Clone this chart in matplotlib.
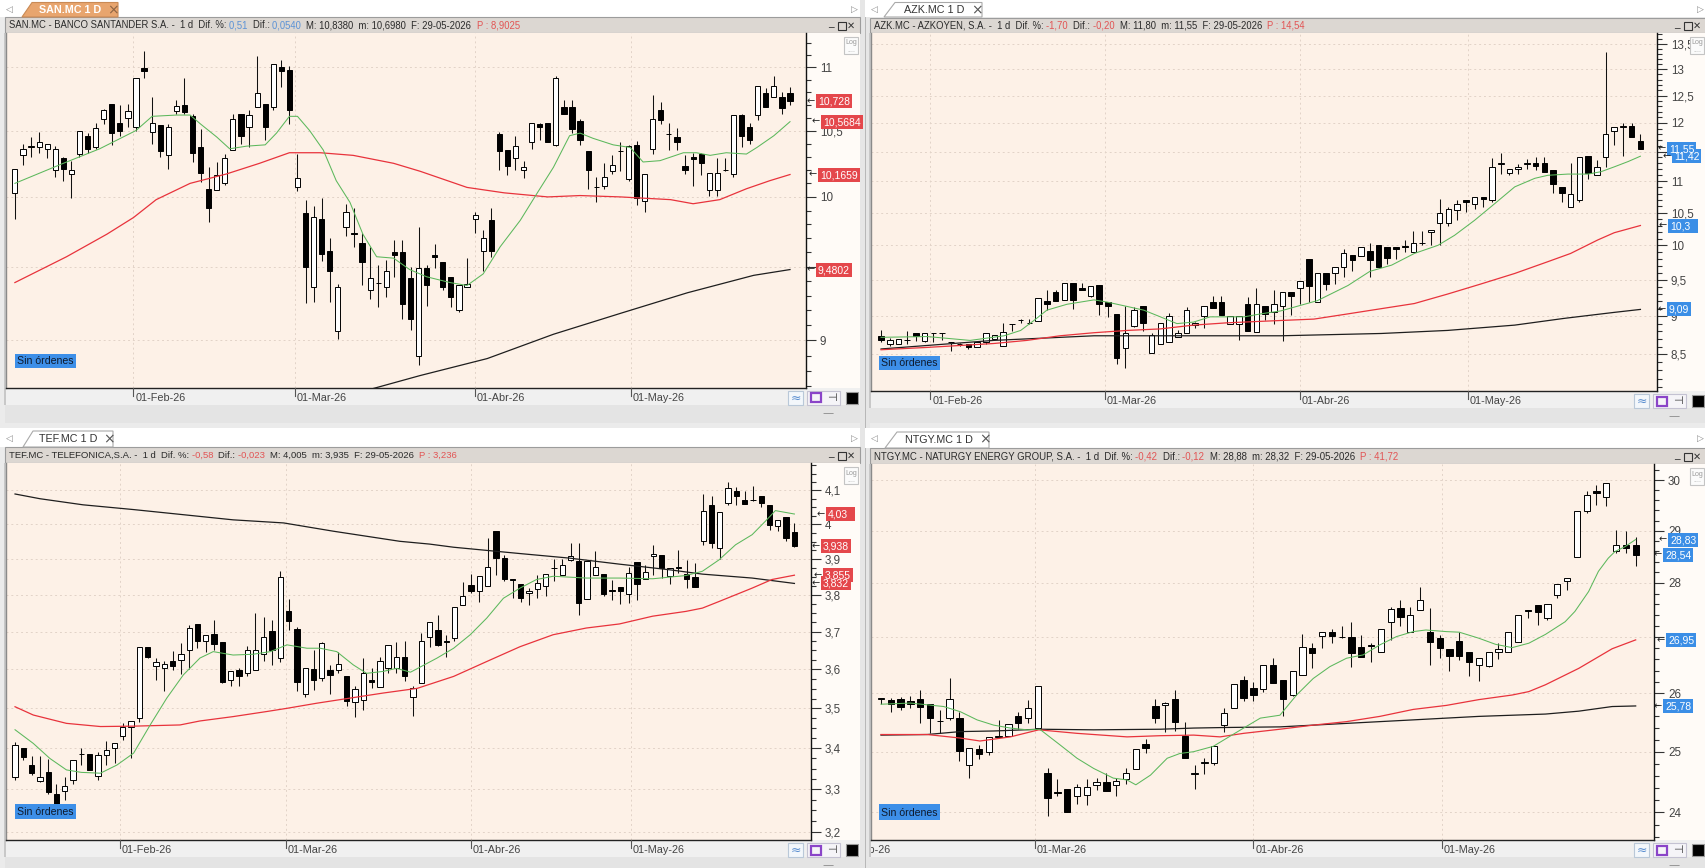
import numpy as np
import pandas as pd
import matplotlib
matplotlib.use("Agg")
import matplotlib.pyplot as plt
from matplotlib import font_manager as fm
from matplotlib.font_manager import FontProperties
from matplotlib.patches import Rectangle, Polygon
from matplotlib.collections import LineCollection
from matplotlib.ticker import FixedLocator, NullFormatter, FuncFormatter
from matplotlib.transforms import offset_copy

# ======================= DATA =======================
LAST_DATE = "2026-05-29"
HOLIDAYS = ["2026-04-03", "2026-04-06", "2026-05-01"]
MONTHS = {2: "Feb", 3: "Mar", 4: "Abr", 5: "May"}

# ---- SAN.MC ----
san_open = [10.03, 10.31, 10.37, 10.37, 10.36, 10.20, 10.29, 10.17, 10.32, 10.46,
            10.37, 10.59, 10.71, 10.56, 10.60, 10.53, 10.99, 10.49, 10.54, 10.31,
            10.65, 10.70, 10.61, 10.37, 10.06, 10.05, 10.10, 10.35, 10.63, 10.53,
            10.68, 10.71, 10.68, 11.00, 10.98, 10.07, 9.88, 9.36, 9.84, 9.61,
            9.06, 9.78, 9.74, 9.67, 9.34, 9.39, 9.36, 9.60, 9.60, 9.42,
            8.90, 9.49, 9.58, 9.53, 9.43, 9.20, 9.36, 9.84, 9.61, 9.83,
            10.47, 10.35, 10.29, 10.20, 10.41, 10.55, 10.56, 10.39, 10.68, 10.68,
            10.57, 10.34, 10.07, 10.08, 10.19, 10.34, 10.13, 10.39, 9.97, 10.36,
            10.66, 10.47, 10.45, 10.23, 10.30, 10.32, 10.05, 10.05, 10.20, 10.17,
            10.62, 10.53, 10.62, 10.79, 10.76, 10.76, 10.79]
san_high = [10.21, 10.40, 10.45, 10.49, 10.40, 10.38, 10.30, 10.27, 10.50, 10.48,
            10.56, 10.67, 10.71, 10.70, 10.71, 10.91, 11.13, 10.76, 10.54, 10.55,
            10.74, 10.91, 10.63, 10.51, 10.22, 10.26, 10.32, 10.63, 10.63, 10.66,
            11.09, 10.71, 11.03, 11.06, 11.01, 10.32, 9.98, 9.93, 9.99, 9.70,
            9.38, 9.95, 9.92, 9.74, 9.64, 9.51, 9.55, 9.69, 9.69, 9.50,
            9.78, 9.51, 9.66, 9.53, 9.43, 9.37, 9.56, 9.89, 9.76, 9.92,
            10.49, 10.35, 10.46, 10.27, 10.56, 10.56, 10.56, 10.93, 10.74, 10.74,
            10.59, 10.34, 10.15, 10.25, 10.31, 10.41, 10.39, 10.42, 10.17, 10.78,
            10.72, 10.56, 10.52, 10.31, 10.33, 10.33, 10.18, 10.29, 10.29, 10.62,
            10.63, 10.56, 10.85, 10.83, 10.93, 10.80, 10.838]
san_low = [9.84, 10.24, 10.30, 10.33, 10.29, 10.15, 10.12, 9.99, 10.30, 10.33,
           10.36, 10.55, 10.39, 10.46, 10.53, 10.50, 10.91, 10.40, 10.30, 10.21,
           10.63, 10.63, 10.26, 10.11, 9.82, 10.05, 10.09, 10.35, 10.40, 10.37,
           10.68, 10.43, 10.66, 10.84, 10.55, 10.04, 9.25, 9.26, 9.54, 9.26,
           9.01, 9.72, 9.64, 9.37, 9.28, 9.22, 9.29, 9.43, 9.14, 9.07,
           8.84, 9.23, 9.49, 9.34, 9.22, 9.19, 9.36, 9.74, 9.47, 9.57,
           10.20, 10.16, 10.20, 10.14, 10.36, 10.43, 10.41, 10.38, 10.63, 10.48,
           10.39, 10.06, 9.96, 10.06, 10.17, 10.19, 10.12, 9.94, 9.89, 10.32,
           10.55, 10.35, 10.35, 10.17, 10.08, 10.16, 10.01, 10.01, 10.19, 10.15,
           10.37, 10.40, 10.58, 10.68, 10.76, 10.63, 10.698]
san_close = [10.21, 10.36, 10.38, 10.41, 10.40, 10.36, 10.21, 10.20, 10.50, 10.36,
             10.52, 10.66, 10.48, 10.50, 10.65, 10.91, 10.97, 10.56, 10.34, 10.53,
             10.69, 10.64, 10.33, 10.18, 9.92, 10.16, 10.29, 10.59, 10.46, 10.62,
             10.79, 10.53, 11.03, 10.97, 10.66, 10.14, 9.50, 9.85, 9.59, 9.47,
             9.36, 9.89, 9.73, 9.53, 9.42, 9.39, 9.47, 9.58, 9.24, 9.14,
             9.49, 9.37, 9.57, 9.36, 9.29, 9.37, 9.38, 9.87, 9.70, 9.61,
             10.34, 10.23, 10.38, 10.22, 10.56, 10.53, 10.41, 10.91, 10.63, 10.51,
             10.43, 10.20, 10.07, 10.15, 10.24, 10.34, 10.38, 9.99, 10.17, 10.59,
             10.58, 10.47, 10.41, 10.20, 10.28, 10.25, 10.18, 10.18, 10.20, 10.62,
             10.46, 10.43, 10.85, 10.68, 10.85, 10.674, 10.728]
san_fast_x = [0, 6, 10.5, 15, 17, 20, 21.7, 23, 25, 26.6, 28.7, 31, 32.4, 34, 35, 36.5, 38.2, 39.8,
              41.5, 43.1, 44.8, 46.9, 48.9, 51, 53.9, 56, 58, 60.1, 62.6, 64.6, 66.7, 68.7, 70,
              71.6, 74.1, 76.2, 77.8, 79.9, 82.8, 84.4, 86.1, 88.1, 90.6, 91.9, 94, 96]
san_fast_y = [10.10, 10.25, 10.36, 10.50, 10.61, 10.62, 10.62, 10.55, 10.45, 10.36, 10.38, 10.39,
              10.48, 10.61, 10.61, 10.50, 10.35, 10.12, 9.96, 9.73, 9.57, 9.56, 9.48, 9.43, 9.39,
              9.37, 9.45, 9.64, 9.83, 10.02, 10.22, 10.46, 10.48, 10.44, 10.39, 10.37, 10.26, 10.27,
              10.33, 10.33, 10.31, 10.33, 10.32, 10.37, 10.46, 10.5684]
san_mid_x = [0, 6.4, 11.4, 14.7, 17.5, 21.7, 26.2, 30.3, 34, 37.8, 41.9, 46.9, 50.2, 56, 60.6, 66,
             70, 75, 81.2, 84, 87.3, 90.6, 93.5, 96]
san_mid_y = [9.39, 9.57, 9.73, 9.85, 9.98, 10.10, 10.17, 10.25, 10.33, 10.33, 10.31, 10.25, 10.19,
             10.07, 10.03, 10.00, 10.01, 10.00, 9.98, 9.95, 9.98, 10.06, 10.12, 10.1659]
san_slow_x = [42.5, 50.2, 58.5, 66.7, 75, 83.3, 91.5, 96]
san_slow_y = [8.66, 8.77, 8.88, 9.04, 9.18, 9.32, 9.44, 9.4802]
san_marks = [10.728, 10.5684, 10.1659, 9.4802]
san_mark_text = ["10,728", "10,5684", "10,1659", "9,4802"]
san_title = [("SAN.MC - BANCO SANTANDER S.A. -  1 d  Dif. %: ", "k"), ("0,51  ", "b"), ("Dif.: ", "k"),
             ("0,0540  ", "b"), ("M: 10,8380  m: 10,6980  F: 29-05-2026  ", "k"), ("P : 8,9025", "r")]

# ---- AZK.MC ----
azk_open = [8.74, 8.64, 8.64, 8.69, 8.78, 8.67, 8.78, 8.78, 8.66, 8.64,
            8.64, 8.59, 8.66, 8.70, 8.61, 8.89, 8.95, 8.91, 8.94, 9.21,
            9.33, 9.22, 9.46, 9.38, 9.28, 9.43, 9.19, 9.03, 8.58, 8.87,
            9.13, 8.52, 8.64, 8.66, 8.72, 8.77, 8.88, 9.00, 9.19, 9.19,
            8.90, 8.89, 9.16, 8.79, 9.13, 9.06, 9.13, 9.33, 9.38, 9.80,
            9.19, 9.60, 9.60, 9.68, 9.86, 9.85, 9.92, 10.00, 9.97, 9.97,
            9.99, 9.90, 10.03, 10.20, 10.34, 10.34, 10.54, 10.70, 10.64, 10.74,
            10.70, 11.29, 11.13, 11.21, 11.29, 11.30, 11.30, 11.19, 10.90, 10.59,
            10.70, 11.43, 11.10, 11.41, 11.85, 11.93, 11.94, 11.68]
azk_high = [8.81, 8.71, 8.70, 8.80, 8.78, 8.78, 8.78, 8.78, 8.66, 8.65,
            8.64, 8.66, 8.77, 8.75, 8.91, 8.90, 8.96, 8.96, 9.25, 9.36,
            9.36, 9.46, 9.46, 9.46, 9.41, 9.43, 9.19, 9.03, 9.14, 9.12,
            9.13, 8.77, 8.91, 9.04, 8.81, 9.12, 8.92, 9.13, 9.28, 9.28,
            9.00, 9.00, 9.26, 9.38, 9.13, 9.36, 9.33, 9.33, 9.49, 9.80,
            9.60, 9.60, 9.68, 9.95, 9.86, 9.97, 10.03, 10.00, 9.97, 9.97,
            10.08, 10.22, 10.22, 10.23, 10.72, 10.58, 10.70, 10.70, 10.74, 10.74,
            11.39, 11.48, 11.21, 11.28, 11.38, 11.41, 11.41, 11.19, 10.90, 11.30,
            11.41, 11.43, 11.36, 13.33, 11.93, 11.99, 12.00, 11.80]
azk_low = [8.66, 8.61, 8.64, 8.64, 8.67, 8.66, 8.66, 8.68, 8.55, 8.61,
           8.57, 8.59, 8.64, 8.70, 8.61, 8.80, 8.91, 8.90, 8.94, 9.08,
           9.21, 9.22, 9.10, 9.35, 9.26, 9.01, 8.99, 8.38, 8.33, 8.85,
           8.80, 8.52, 8.64, 8.66, 8.72, 8.77, 8.84, 8.84, 9.11, 9.01,
           8.90, 8.68, 8.80, 8.79, 8.95, 8.90, 8.67, 9.01, 9.17, 9.19,
           9.19, 9.36, 9.44, 9.54, 9.63, 9.85, 9.54, 9.69, 9.73, 9.80,
           9.90, 9.90, 10.00, 10.00, 10.00, 10.30, 10.38, 10.51, 10.56, 10.59,
           10.67, 11.12, 11.11, 11.12, 11.21, 11.18, 11.16, 10.81, 10.66, 10.59,
           10.66, 11.04, 11.10, 11.24, 11.61, 11.42, 11.77, 11.55]
azk_close = [8.68, 8.69, 8.70, 8.69, 8.74, 8.78, 8.77, 8.77, 8.66, 8.64,
             8.59, 8.66, 8.77, 8.75, 8.79, 8.89, 8.95, 8.91, 9.25, 9.17,
             9.21, 9.46, 9.22, 9.35, 9.41, 9.17, 9.13, 8.45, 8.77, 9.08,
             8.91, 8.75, 8.91, 9.00, 8.78, 9.08, 8.91, 9.13, 9.11, 9.01,
             9.00, 9.00, 8.80, 9.16, 9.03, 9.16, 9.33, 9.27, 9.49, 9.41,
             9.60, 9.44, 9.68, 9.88, 9.79, 9.97, 9.79, 9.69, 9.82, 9.95,
             9.98, 10.04, 10.04, 10.23, 10.50, 10.55, 10.64, 10.66, 10.74, 10.71,
             11.23, 11.30, 11.20, 11.24, 11.30, 11.26, 11.16, 10.95, 10.81, 10.80,
             11.41, 11.13, 11.23, 11.80, 11.93, 11.94, 11.75, 11.55]
azk_fast_x = [0, 5.3, 10.2, 14.1, 16, 17.5, 19, 21.3, 24.4, 25.9, 28.2, 30.1, 32, 33.9, 35.8, 37.7,
              41.6, 43.5, 45.8, 50, 53.5, 56, 58.5, 61.1, 63.8, 65.7, 68, 70.3, 72.6, 74.9, 76.4,
              78.7, 81, 82.5, 84, 85.6, 87]
azk_fast_y = [8.72, 8.73, 8.68, 8.74, 8.81, 8.94, 9.08, 9.16, 9.22, 9.19, 9.13, 9.08, 8.99, 8.90,
              8.92, 8.99, 8.99, 9.03, 9.07, 9.21, 9.42, 9.62, 9.71, 9.88, 10.00, 10.15, 10.38,
              10.64, 10.91, 11.05, 11.10, 11.12, 11.12, 11.16, 11.24, 11.33, 11.42]
azk_mid_x = [0, 5.3, 12.9, 16.7, 20.5, 24.4, 28.2, 32, 35.8, 39.6, 43.5, 49.6, 53.5, 57.3, 61.1,
             64.9, 68.7, 72.6, 76.4, 79, 82.1, 84, 87]
azk_mid_y = [8.56, 8.59, 8.64, 8.68, 8.74, 8.78, 8.81, 8.83, 8.88, 8.91, 8.93, 8.96, 9.03, 9.10,
             9.17, 9.30, 9.44, 9.59, 9.76, 9.88, 10.08, 10.19, 10.30]
azk_slow_x = [0, 12.9, 24.4, 35.8, 45.8, 57.3, 64.9, 72.6, 78.3, 84, 87]
azk_slow_y = [8.57, 8.68, 8.74, 8.74, 8.74, 8.77, 8.81, 8.88, 8.97, 9.05, 9.09]
azk_marks = [11.42, 11.55, 10.3, 9.09]
azk_mark_text = ["11,42", "11,55", "10,3", "9,09"]
azk_title = [("AZK.MC - AZKOYEN, S.A. -  1 d  Dif. %: ", "k"), ("-1,70  ", "r"), ("Dif.: ", "k"),
             ("-0,20  ", "r"), ("M: 11,80  m: 11,55  F: 29-05-2026  ", "k"), ("P : 14,54", "r")]

# ---- TEF.MC ----
tef_open = [3.331, 3.400, 3.359, 3.320, 3.341, 3.290, 3.296, 3.322, 3.386, 3.386,
            3.333, 3.383, 3.400, 3.431, 3.454, 3.475, 3.660, 3.608, 3.603, 3.621,
            3.625, 3.652, 3.721, 3.674, 3.694, 3.672, 3.573, 3.599, 3.590, 3.599,
            3.641, 3.701, 3.630, 3.757, 3.708, 3.536, 3.601, 3.577, 3.599, 3.599,
            3.582, 3.517, 3.521, 3.573, 3.554, 3.605, 3.605, 3.632, 3.530, 3.565,
            3.686, 3.705, 3.674, 3.683, 3.773, 3.828, 3.812, 3.826, 3.982, 3.903,
            3.845, 3.830, 3.806, 3.817, 3.826, 3.875, 3.856, 3.898, 3.894, 3.789,
            3.856, 3.858, 3.813, 3.822, 3.803, 3.892, 3.843, 3.908, 3.913, 3.854,
            3.877, 3.858, 3.851, 3.951, 4.055, 3.932, 4.062, 4.097, 4.070, 4.072,
            4.084, 4.055, 3.994, 4.021, 3.978]
tef_high = [3.416, 3.400, 3.381, 3.381, 3.373, 3.314, 3.330, 3.371, 3.400, 3.386,
            3.392, 3.418, 3.414, 3.462, 3.468, 3.660, 3.660, 3.630, 3.621, 3.649,
            3.670, 3.719, 3.721, 3.690, 3.732, 3.672, 3.595, 3.603, 3.663, 3.750,
            3.739, 3.732, 3.866, 3.790, 3.714, 3.605, 3.652, 3.672, 3.612, 3.647,
            3.582, 3.556, 3.630, 3.603, 3.634, 3.665, 3.672, 3.674, 3.558, 3.697,
            3.726, 3.746, 3.692, 3.768, 3.836, 3.858, 3.853, 3.960, 3.982, 3.913,
            3.845, 3.830, 3.819, 3.856, 3.858, 3.901, 3.901, 3.946, 3.946, 3.894,
            3.922, 3.858, 3.841, 3.822, 3.879, 3.892, 3.884, 3.939, 3.913, 3.875,
            3.925, 3.898, 3.890, 4.089, 4.084, 4.036, 4.125, 4.109, 4.097, 4.112,
            4.084, 4.055, 4.013, 4.021, 4.005]
tef_low = [3.322, 3.371, 3.334, 3.318, 3.290, 3.250, 3.274, 3.312, 3.359, 3.347,
           3.322, 3.359, 3.363, 3.420, 3.375, 3.466, 3.630, 3.573, 3.543, 3.599,
           3.588, 3.601, 3.656, 3.647, 3.652, 3.565, 3.556, 3.556, 3.582, 3.599,
           3.621, 3.612, 3.619, 3.705, 3.543, 3.528, 3.547, 3.570, 3.536, 3.590,
           3.506, 3.479, 3.496, 3.551, 3.554, 3.590, 3.592, 3.569, 3.481, 3.565,
           3.660, 3.663, 3.634, 3.674, 3.773, 3.805, 3.782, 3.826, 3.856, 3.838,
           3.791, 3.782, 3.773, 3.791, 3.796, 3.840, 3.856, 3.894, 3.746, 3.789,
           3.856, 3.796, 3.787, 3.775, 3.777, 3.787, 3.843, 3.856, 3.847, 3.830,
           3.861, 3.819, 3.822, 3.939, 3.932, 3.901, 4.057, 4.057, 4.060, 4.069,
           4.052, 3.984, 3.980, 3.951, 3.935]
tef_close = [3.407, 3.379, 3.339, 3.329, 3.294, 3.263, 3.308, 3.371, 3.387, 3.347,
             3.383, 3.396, 3.414, 3.454, 3.468, 3.660, 3.632, 3.619, 3.614, 3.608,
             3.640, 3.710, 3.676, 3.690, 3.668, 3.567, 3.595, 3.582, 3.650, 3.652,
             3.687, 3.652, 3.851, 3.728, 3.567, 3.605, 3.573, 3.670, 3.586, 3.614,
             3.519, 3.549, 3.590, 3.567, 3.623, 3.665, 3.632, 3.582, 3.551, 3.676,
             3.726, 3.665, 3.673, 3.768, 3.796, 3.810, 3.853, 3.879, 3.903, 3.845,
             3.841, 3.791, 3.812, 3.833, 3.858, 3.874, 3.884, 3.908, 3.777, 3.894,
             3.877, 3.803, 3.812, 3.810, 3.861, 3.831, 3.864, 3.916, 3.875, 3.875,
             3.875, 3.843, 3.822, 4.040, 3.946, 4.036, 4.107, 4.084, 4.060, 4.072,
             4.062, 3.999, 4.013, 3.961, 3.938]
tef_fast_x = [0, 2.2, 4.2, 6.2, 8, 10.3, 12.3, 14.3, 16.3, 18.3, 20.3, 22.3, 23.9, 26.3, 28.7, 30.8,
              32.8, 35.2, 36.8, 38.8, 40.8, 42.4, 44.4, 46, 47.7, 50.9, 52.9, 54.9, 56.9, 58.9, 60.9,
              62.9, 64.9, 68.9, 72.9, 76.9, 80.9, 82.9, 84.9, 86.9, 88.9, 90.5, 91.7, 94]
tef_fast_y = [3.446, 3.412, 3.375, 3.347, 3.341, 3.339, 3.359, 3.388, 3.458, 3.526, 3.586, 3.630,
              3.647, 3.638, 3.640, 3.647, 3.665, 3.656, 3.656, 3.647, 3.612, 3.590, 3.595, 3.603,
              3.593, 3.630, 3.656, 3.692, 3.737, 3.791, 3.819, 3.843, 3.852, 3.847, 3.847, 3.845,
              3.854, 3.866, 3.898, 3.941, 3.970, 4.009, 4.040, 4.030]
tef_mid_x = [0, 2.2, 6.2, 10.3, 14.3, 19.9, 22.3, 26.3, 30.4, 32.8, 36.4, 40.4, 44.4, 48.5, 52.9,
             56.9, 60.9, 64.9, 68.9, 72.9, 76.9, 80.9, 82.9, 84.9, 88.9, 91.3, 94]
tef_mid_y = [3.504, 3.483, 3.462, 3.454, 3.455, 3.458, 3.468, 3.479, 3.492, 3.500, 3.513, 3.526,
             3.539, 3.551, 3.582, 3.621, 3.660, 3.692, 3.710, 3.721, 3.742, 3.755, 3.764, 3.782,
             3.819, 3.843, 3.855]
tef_slow_x = [0, 3, 8.2, 14.3, 20.3, 26.3, 32.4, 38.4, 46.4, 50, 52.9, 60.9, 66.9, 72.9, 79, 82.9,
              88.9, 94]
tef_slow_y = [4.089, 4.075, 4.057, 4.043, 4.028, 4.013, 4.004, 3.980, 3.951, 3.943, 3.934, 3.916,
              3.903, 3.886, 3.870, 3.858, 3.847, 3.832]
tef_marks = [4.03, 3.938, 3.832, 3.855]
tef_mark_text = ["4,03", "3,938", "3,832", "3,855"]
tef_title = [("TEF.MC - TELEFONICA,S.A. -  1 d  Dif. %: ", "k"), ("-0,58  ", "r"), ("Dif.: ", "k"),
             ("-0,023  ", "r"), ("M: 4,005  m: 3,935  F: 29-05-2026  ", "k"), ("P : 3,236", "r")]

# ---- NTGY.MC ----
ntgy_open = [25.90, 25.89, 25.90, 25.87, 25.90, 25.81, 25.52, 25.57, 25.58, 24.77,
             25.05, 25.00, 25.25, 25.27, 25.60, 25.57, 25.40, 24.64, 24.33, 24.38,
             24.27, 24.28, 24.45, 24.50, 24.44, 24.55, 24.71, 25.13, 25.78, 25.79,
             25.90, 25.27, 24.63, 24.81, 24.81, 25.45, 25.75, 26.23, 26.10, 26.08,
             26.50, 26.23, 25.97, 26.32, 26.80, 27.02, 27.10, 27.00, 27.00, 26.83,
             26.85, 26.74, 27.28, 27.53, 27.10, 27.50, 27.10, 26.98, 26.78, 26.93,
             26.73, 26.50, 26.49, 26.74, 26.73, 26.92, 27.50, 27.58, 27.34, 27.78,
             28.04, 28.50, 29.38, 29.78, 29.67, 28.60, 28.73, 28.73]
ntgy_high = [25.92, 25.91, 25.93, 25.96, 26.06, 25.81, 25.71, 26.26, 25.67, 25.06,
             25.12, 25.24, 25.54, 25.47, 25.67, 25.89, 26.13, 24.73, 24.54, 24.38,
             24.47, 24.55, 24.57, 24.64, 24.57, 24.73, 25.05, 25.22, 25.90, 25.85,
             26.06, 25.51, 24.78, 24.89, 25.09, 25.75, 26.17, 26.31, 26.19, 26.50,
             26.63, 26.23, 26.40, 27.06, 26.89, 27.10, 27.15, 27.20, 27.28, 27.03,
             26.89, 27.14, 27.56, 27.69, 27.56, 27.93, 27.53, 27.04, 26.78, 27.09,
             26.73, 26.62, 26.74, 26.89, 27.09, 27.41, 27.50, 27.58, 27.61, 27.98,
             28.09, 29.38, 29.79, 29.91, 29.95, 29.01, 28.99, 28.88]
ntgy_low = [25.81, 25.68, 25.71, 25.74, 25.48, 25.31, 25.31, 25.54, 24.84, 24.57,
            24.87, 24.94, 25.23, 25.26, 25.39, 25.48, 25.40, 23.95, 24.26, 24.00,
            24.13, 24.12, 24.36, 24.35, 24.26, 24.47, 24.71, 24.98, 25.48, 25.34,
            25.35, 24.89, 24.38, 24.62, 24.77, 25.34, 25.75, 25.86, 25.86, 26.03,
            26.18, 25.60, 25.96, 26.32, 26.45, 26.81, 26.89, 26.98, 26.46, 26.64,
            26.56, 26.74, 26.95, 27.20, 27.10, 27.50, 26.50, 26.62, 26.39, 26.59,
            26.31, 26.21, 26.47, 26.61, 26.73, 26.92, 27.35, 27.22, 27.32, 27.72,
            27.87, 28.50, 29.34, 29.51, 29.48, 28.57, 28.57, 28.32]
ntgy_close = [25.91, 25.81, 25.77, 25.82, 25.76, 25.57, 25.52, 25.90, 25.01, 25.06,
              24.96, 25.24, 25.26, 25.47, 25.49, 25.75, 26.12, 24.24, 24.32, 24.00,
              24.41, 24.41, 24.50, 24.35, 24.52, 24.64, 25.05, 25.07, 25.58, 25.83,
              25.50, 24.90, 24.64, 24.82, 25.09, 25.65, 26.16, 25.91, 25.97, 26.50,
              26.18, 25.90, 26.40, 26.83, 26.71, 27.10, 27.02, 27.01, 26.72, 26.64,
              26.84, 27.14, 27.52, 27.36, 27.40, 27.69, 26.91, 26.81, 26.66, 26.66,
              26.56, 26.62, 26.74, 26.78, 27.09, 27.41, 27.47, 27.46, 27.61, 27.98,
              28.09, 29.38, 29.71, 29.74, 29.94, 28.73, 28.66, 28.54]
ntgy_fast_x = [0, 3, 6.4, 8.1, 9.8, 11.5, 13.2, 14.9, 16.2, 18.3, 20, 21.7, 23.7, 25.1, 26, 27.5,
               29.2, 30.5, 31.9, 33.9, 35.3, 37, 38.7, 40.7, 42.4, 44.1, 45.8, 47.5, 49.2, 50.9,
               52.6, 54.3, 55.6, 57.7, 59, 61, 62.7, 64.4, 66.1, 67.8, 69.8, 70.8, 72.2, 73.2,
               74.2, 74.9, 75.9, 77]
ntgy_fast_y = [25.81, 25.83, 25.77, 25.68, 25.54, 25.45, 25.40, 25.37, 25.38, 25.11, 24.89, 24.72,
               24.56, 24.53, 24.45, 24.61, 24.89, 24.97, 25.00, 25.09, 25.23, 25.40, 25.57, 25.62,
               25.97, 26.26, 26.47, 26.62, 26.68, 26.86, 27.01, 27.10, 27.13, 27.10, 27.09, 26.98,
               26.87, 26.81, 26.89, 27.05, 27.28, 27.47, 27.84, 28.22, 28.47, 28.60, 28.69, 28.83]
ntgy_mid_x = [0, 4.7, 8.1, 10.1, 13.2, 16.1, 20, 25.1, 28.5, 31.9, 34.6, 37, 40.7, 44.1, 47.5,
              50.9, 54.3, 57.7, 61, 64.4, 66.1, 67.8, 71.2, 74.6, 77]
ntgy_mid_y = [25.29, 25.29, 25.23, 25.18, 25.25, 25.37, 25.31, 25.25, 25.27, 25.28, 25.25, 25.31,
              25.38, 25.45, 25.51, 25.60, 25.72, 25.79, 25.89, 25.97, 26.03, 26.15, 26.44, 26.79,
              26.95]
ntgy_slow_x = [0, 4.7, 8.1, 11.5, 16.2, 21.7, 28.5, 31.9, 35.3, 40.7, 47.5, 54.3, 61, 67.8, 71.2,
               74.6, 77]
ntgy_slow_y = [25.28, 25.29, 25.34, 25.35, 25.38, 25.37, 25.38, 25.40, 25.41, 25.42, 25.48, 25.54,
               25.60, 25.64, 25.69, 25.77, 25.78]
ntgy_marks = [28.83, 28.54, 26.95, 25.78]
ntgy_mark_text = ["28,83", "28,54", "26,95", "25,78"]
ntgy_title = [("NTGY.MC - NATURGY ENERGY GROUP, S.A. -  1 d  Dif. %: ", "k"), ("-0,42  ", "r"),
              ("Dif.: ", "k"), ("-0,12  ", "r"), ("M: 28,88  m: 28,32  F: 29-05-2026  ", "k"),
              ("P : 41,72", "r")]

# ======================= STYLE =======================
_avail = {f.name for f in fm.fontManager.ttflist}
if "Liberation Sans Narrow" in _avail:
    FONT, FS = "Liberation Sans Narrow", 1.0
else:
    FONT, FS = "Liberation Sans", 0.84
plt.rcParams["font.family"] = [FONT, "DejaVu Sans"]

RED_BOX, BLUE_BOX = "#e4474b", "#3b8ee6"
TCOL = {"k": "#2a2a2a", "b": "#5b92d6", "r": "#e25454"}
PLOT_BG, AXIS_BG, BAR_BG = "#fdf1e7", "#fffbf7", "#dcd7d2"
GRID = "#e2d3c8"

W, H = 1706, 868
fig = plt.figure(figsize=(W / 100, H / 100), dpi=100)
fig.patch.set_facecolor("#ebebeb")
renderer = fig.canvas.get_renderer()


def fr(x0, y0, x1, y1):
    return [x0 / W, 1 - y1 / H, (x1 - x0) / W, (y1 - y0) / H]


def frect(x0, y0, x1, y1, fc, ec="none", lw=0.0, z=-5):
    r = Rectangle((x0 / W, 1 - y1 / H), (x1 - x0) / W, (y1 - y0) / H, transform=fig.transFigure,
                  facecolor=fc, edgecolor=ec, linewidth=lw, zorder=z)
    fig.add_artist(r)
    return r


def ftext(x, y, s, size, color="#222222", ha="left", va="center", z=6, **kw):
    return fig.text(x / W, 1 - y / H, s, fontsize=size, color=color, ha=ha, va=va, zorder=z, **kw)


def twidth(s, size):
    fp = FontProperties(family=FONT, size=size)
    a = renderer.get_text_width_height_descent(s + "|", fp, ismath=False)[0]
    b = renderer.get_text_width_height_descent("|", fp, ismath=False)[0]
    return a - b


CAL = pd.bdate_range("2026-01-02", LAST_DATE)
CAL = CAL[~CAL.isin(pd.to_datetime(HOLIDAYS))]


def month_ticks(n):
    off = len(CAL) - n
    out = []
    for m, name in MONTHS.items():
        d = pd.Timestamp(2026, m, 1)
        k = int(CAL.searchsorted(d))
        if k < len(CAL) and CAL[k] == d:
            pos = float(k)
        else:
            pos = k - 1 + (d - CAL[k - 1]).days / (CAL[k] - CAL[k - 1]).days
        out.append((pos - off, "01-%s-26" % name))
    return out


def minor_list(lo, hi, step, majors):
    vals = np.arange(np.ceil(lo / step) * step, hi, step)
    return [v for v in vals if min(abs(v - m) for m in majors) > step * 0.3]


LABEL_FS = 8.9 * FS


def draw_panel(p):
    X0, X1 = p["x0"], p["x1"]
    xa, ya, xb, yb = p["plot"]
    ty0, ty1 = p["tab_y"]
    hy0, hy1 = p["title_y"]

    # frame pieces
    frect(X0 - 5, ty0, X1, ty1, "#ffffff", z=-6)
    frect(X0, hy0, X1, hy1, BAR_BG, ec="#9c9c9c", lw=0.8, z=-4)
    frect(xb, ya, X1, yb, AXIS_BG, z=-4)
    frect(X0, yb, X1, yb + 17, "#f0f0f0", z=-4)
    frect(X0, yb + 17, X1, p["strip_end"], "#e4e4e4", z=-4)
    frect(X0 - 1, ya, xa, yb + 17, "#c8c8c8", z=-4)

    # tab
    act = p["active"]
    poly = [(x / W, 1 - y / H) for x, y in p["tab_poly"]]
    fig.add_artist(Polygon(poly, closed=True, transform=fig.transFigure,
                           facecolor=("#e8a56e" if act else "#ffffff"),
                           edgecolor=("#c98a55" if act else "#a9a9a9"), linewidth=0.8, zorder=1))
    tyc = (ty0 + ty1) / 2 + 1.5
    ftext(p["tab_text_x"], tyc, p["tab_text"], 9.2 * FS,
          color=("#ffffff" if act else "#333333"), weight=("bold" if act else "normal"))
    ftext(p["tab_close_x"], tyc, "\u00d7", 10, color=("#8d6444" if act else "#555555"), family="DejaVu Sans")
    ftext(X0 + 1, tyc - 1, "\u25c1", 6.5, color="#8a8a8a", family="DejaVu Sans")
    ftext(X1 - 9, tyc - 1, "\u25b7", 6.5, color="#8a8a8a", family="DejaVu Sans")

    # title text (fit to measured width)
    segs = p["title"]
    total = sum(twidth(s, 10) for s, _ in segs)
    size = 10 * p["title_w"] / total
    x = p["title_x"]
    yc = (hy0 + hy1) / 2 + 0.5
    for s, c in segs:
        ftext(x, yc, s, size, color=TCOL[c])
        x += twidth(s, size)
    # window buttons
    ftext(X1 - 32, yc - 2, "_", 8, color="#333333", family="DejaVu Sans")
    frect(X1 - 22, yc - 4, X1 - 14, yc + 4, "none", ec="#333333", lw=0.8, z=6)
    ftext(X1 - 9, yc, "\u2715", 7, color="#333333", family="DejaVu Sans", ha="center")

    # main axes
    ax = fig.add_axes(fr(xa, ya, xb, yb))
    ax.set_facecolor(PLOT_BG)
    o, h, l, c = p["o"], p["h"], p["l"], p["c"]
    n = len(o)
    ax.set_yscale("log")
    ax.set_xlim(-p["pad"][0], n - 1 + p["pad"][1])
    ax.set_ylim(*p["ylim"])

    ticks = month_ticks(n)
    for v in p["majors"]:
        ax.axhline(v, color=GRID, lw=0.7, ls=(0, (2, 3)), zorder=1)
    for pos, _ in ticks:
        ax.axvline(pos, color=GRID, lw=0.7, ls=(0, (2, 3)), zorder=1)

    idx = np.arange(n)
    segs_w = [[(i, l[i]), (i, h[i])] for i in idx]
    ax.add_collection(LineCollection(segs_w, colors="#111111", linewidths=0.75, zorder=3))
    bw = 0.64
    for i in idx:
        up = c[i] >= o[i]
        lo, hi = min(o[i], c[i]), max(o[i], c[i])
        ax.add_patch(Rectangle((i - bw / 2, lo), bw, hi - lo, facecolor=("#ffffff" if up else "#000000"),
                               edgecolor="#000000", linewidth=0.7, zorder=4))

    ax.plot(p["slow"][0], p["slow"][1], color="#1e1e1e", lw=0.9, zorder=5)
    ax.plot(p["mid"][0], p["mid"][1], color="#e8333c", lw=0.9, zorder=5)
    ax.plot(p["fast"][0], p["fast"][1], color="#5cb85c", lw=0.75, zorder=5)

    hidden = p["hidden"]

    def fmt(v, _):
        if any(abs(v - hv) < 1e-9 for hv in hidden):
            return ""
        return ("%g" % v).replace(".", ",")

    ax.yaxis.tick_right()
    ax.yaxis.set_major_locator(FixedLocator(p["majors"]))
    ax.yaxis.set_major_formatter(FuncFormatter(fmt))
    ax.yaxis.set_minor_locator(FixedLocator(minor_list(p["ylim"][0], p["ylim"][1], p["minor"], p["majors"])))
    ax.yaxis.set_minor_formatter(NullFormatter())
    ax.tick_params(axis="y", which="major", length=7, width=0.8, colors="#333333",
                   labelsize=10 * FS, labelcolor="#444444", pad=3)
    ax.tick_params(axis="y", which="minor", length=3.5, width=0.8, colors="#333333")
    ax.tick_params(axis="x", bottom=False, labelbottom=False)
    ax.spines["top"].set_visible(False)
    ax.spines["left"].set_color("#8a8a8a")
    ax.spines["right"].set_color("#111111")
    ax.spines["bottom"].set_color("#222222")
    for s in ("right", "bottom", "left"):
        ax.spines[s].set_linewidth(1.0)

    # date strip
    dax = fig.add_axes(fr(xa, yb, xb, yb + 17))
    dax.set_xlim(ax.get_xlim())
    dax.set_ylim(0, 1)
    dax.axis("off")
    tr = offset_copy(dax.transData, fig=fig, x=2, y=0, units="dots")
    for pos, lab in ticks:
        dax.plot([pos, pos], [1, 0.55], color="#555555", lw=0.8, clip_on=True)
        t = dax.text(pos, 0.40, lab, transform=tr, fontsize=9.3 * FS, color="#444444",
                     ha="left", va="center", clip_on=True)
        t.set_clip_box(dax.bbox)

    # "Log" box
    frect(X1 - 16, ya + 4, X1 - 2, ya + 21, "#fbfbfb", ec="#c4c4c4", lw=0.8, z=6)
    ftext(X1 - 9, ya + 10, "Log", 5.5 * FS + 0.5, color="#9a9a9a", ha="center", z=7)
    ftext(X1 - 9, ya + 17, "....", 5, color="#b0b0b0", ha="center", z=7)

    # "Sin ordenes"
    bx0, by0, bx1, by1 = p["orders"]
    ofs = 9.0 * FS
    bx1 = max(bx1, bx0 + twidth("Sin \u00f3rdenes", ofs) + 4)
    frect(bx0, by0, bx1, by1, "#3d8fe8", z=6)
    ftext(bx0 + 2, (by0 + by1) / 2 + 0.5, "Sin \u00f3rdenes", ofs, color="#0f1a2c", z=7)

    # price marks
    for val, txt, (bxl, bxr) in zip(p["marks"], p["mark_text"], p["mark_boxes"]):
        yd = ax.transData.transform((0, val))[1]
        yp = H - yd
        bxr = max(bxr, bxl + twidth(txt, LABEL_FS) + 4)
        frect(bxl, yp - 7, bxr, yp + 7, p["mark_color"], z=8)
        ftext(bxl + 2, yp + 0.5, txt, LABEL_FS, color="#ffffff", z=9)
        ftext(bxl - 9, yp, "\u2190", 7, color="#222222", z=9, family="DejaVu Sans")

    # bottom-right icons
    iy0 = yb + 3
    frect(X1 - 72, iy0, X1 - 57, iy0 + 14, "#f3f7fb", ec="#b9c8d8", lw=0.8, z=6)
    ftext(X1 - 64.5, iy0 + 7, "\u2248", 9, color="#5b8fd0", ha="center", z=7, family="DejaVu Sans")
    frect(X1 - 53, iy0, X1 - 20, iy0 + 14, "#f5f4f8", ec="#c4c2d2", lw=0.8, z=6)
    frect(X1 - 49, iy0 + 2.5, X1 - 39, iy0 + 11.5, "none", ec="#8a44c8", lw=1.6, z=7)
    ftext(X1 - 28, iy0 + 7, "\u22a3", 8, color="#333333", ha="center", z=7, family="DejaVu Sans")
    frect(X1 - 14, iy0 + 1, X1 - 2, iy0 + 13, "#000000", ec="#9a9a9a", lw=0.8, z=6)
    ftext(X1 - 32, yb + 25, "\u2014", 8, color="#888888", ha="center", z=6, family="DejaVu Sans")


# separators
frect(860, 0, 870, H, "#e6e6e6", z=-7)
frect(865, 0, 866, H, "#b8b8b8", z=-6.5)

panels = [
    dict(o=san_open, h=san_high, l=san_low, c=san_close,
         fast=(san_fast_x, san_fast_y), mid=(san_mid_x, san_mid_y), slow=(san_slow_x, san_slow_y),
         marks=san_marks, mark_text=san_mark_text, title=san_title,
         x0=5, x1=860, tab_y=(0, 17), title_y=(17, 33), plot=(6, 33, 806, 388), strip_end=423,
         tab_poly=[(22, 17), (32, 2.5), (118, 2.5), (118, 17)], tab_text="SAN.MC 1 D",
         tab_text_x=39, tab_close_x=107, active=True, title_x=9, title_w=514,
         ylim=(8.69, 11.28), majors=[9, 9.5, 10, 10.5, 11], hidden=[9.5], minor=0.1, pad=(1.1, 1.98),
         mark_boxes=[(816, 850), (821, 859), (818, 858), (816, 850)], mark_color=RED_BOX,
         orders=(15, 354, 70, 368)),
    dict(o=azk_open, h=azk_high, l=azk_low, c=azk_close,
         fast=(azk_fast_x, azk_fast_y), mid=(azk_mid_x, azk_mid_y), slow=(azk_slow_x, azk_slow_y),
         marks=azk_marks, mark_text=azk_mark_text, title=azk_title,
         x0=870, x1=1706, tab_y=(0, 17), title_y=(18, 33), plot=(871, 33, 1657, 391), strip_end=423,
         tab_poly=[(884, 17), (895, 2.5), (982, 2.5), (982, 17)], tab_text="AZK.MC 1 D",
         tab_text_x=904, tab_close_x=971, active=False, title_x=874, title_w=433,
         ylim=(8.05, 13.72), majors=[8.5, 9, 9.5, 10, 10.5, 11, 11.5, 12, 12.5, 13, 13.5],
         hidden=[11.5], minor=0.1, pad=(1.15, 1.9),
         mark_boxes=[(1672, 1698), (1667, 1693), (1668, 1698), (1667, 1689)], mark_color=BLUE_BOX,
         orders=(879, 356, 934, 370)),
    dict(o=tef_open, h=tef_high, l=tef_low, c=tef_close,
         fast=(tef_fast_x, tef_fast_y), mid=(tef_mid_x, tef_mid_y), slow=(tef_slow_x, tef_slow_y),
         marks=tef_marks, mark_text=tef_mark_text, title=tef_title,
         x0=5, x1=860, tab_y=(428, 447), title_y=(447, 463), plot=(6, 463, 811, 840), strip_end=868,
         tab_poly=[(23, 447), (33, 431), (113, 431), (113, 447)], tab_text="TEF.MC 1 D",
         tab_text_x=39, tab_close_x=103, active=False, title_x=9, title_w=449,
         ylim=(3.181, 4.182), majors=[3.2, 3.3, 3.4, 3.5, 3.6, 3.7, 3.8, 3.9, 4.0, 4.1],
         hidden=[], minor=0.025, pad=(1.09, 2.0),
         mark_boxes=[(826, 855), (821, 850), (821, 850), (823, 853)], mark_color=RED_BOX,
         orders=(15, 804, 70, 819)),
    dict(o=ntgy_open, h=ntgy_high, l=ntgy_low, c=ntgy_close,
         fast=(ntgy_fast_x, ntgy_fast_y), mid=(ntgy_mid_x, ntgy_mid_y), slow=(ntgy_slow_x, ntgy_slow_y),
         marks=ntgy_marks, mark_text=ntgy_mark_text, title=ntgy_title,
         x0=870, x1=1706, tab_y=(428, 448), title_y=(448, 464), plot=(871, 464, 1654, 840), strip_end=868,
         tab_poly=[(885, 448), (897, 432), (989, 432), (989, 448)], tab_text="NTGY.MC 1 D",
         tab_text_x=905, tab_close_x=979, active=False, title_x=874, title_w=524,
         ylim=(23.56, 30.33), majors=[24, 25, 26, 27, 28, 29, 30], hidden=[27], minor=0.2,
         pad=(1.02, 1.87),
         mark_boxes=[(1668, 1696), (1663, 1693), (1666, 1696), (1663, 1693)], mark_color=BLUE_BOX,
         orders=(879, 804, 934, 820)),
]

for p in panels:
    draw_panel(p)

fig.savefig("out.png", dpi=100, facecolor=fig.get_facecolor())
